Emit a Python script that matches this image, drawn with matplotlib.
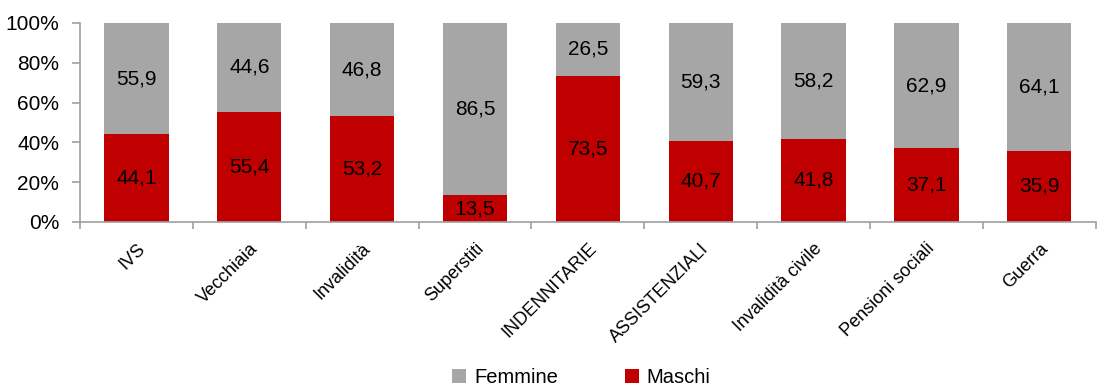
import matplotlib
matplotlib.use("Agg")
import matplotlib.pyplot as plt
import numpy as np
from matplotlib.ticker import FixedLocator, PercentFormatter

plt.rcParams['font.family'] = ['Liberation Sans', 'DejaVu Sans']

categories = ["IVS", "Vecchiaia", "Invalidità", "Superstiti", "INDENNITARIE",
              "ASSISTENZIALI", "Invalidità civile", "Pensioni sociali", "Guerra"]
maschi = [44.1, 55.4, 53.2, 13.5, 73.5, 40.7, 41.8, 37.1, 35.9]
femmine = [55.9, 44.6, 46.8, 86.5, 26.5, 59.3, 58.2, 62.9, 64.1]

col_m = "#C00000"
col_f = "#A6A6A6"
axis_col = "#A0A0A0"

fig = plt.figure(figsize=(11.18, 3.87), dpi=100)
ax = fig.add_axes([0.0716, 0.4264, 0.9084, 0.5142])

x = np.arange(len(categories))
w = 0.57
bm = ax.bar(x, maschi, w, color=col_m, label="Maschi")
bf = ax.bar(x, femmine, w, bottom=maschi, color=col_f, label="Femmine")

fmt = lambda v: f"{v:.1f}".replace(".", ",")
for xi, m, f in zip(x, maschi, femmine):
    ax.text(xi, m / 2, fmt(m), ha="center", va="center", fontsize=15, color="black")
    ax.text(xi, m + f / 2, fmt(f), ha="center", va="center", fontsize=15, color="black")

ax.set_xlim(-0.5, len(categories) - 0.5)
ax.set_ylim(0, 100)
ax.yaxis.set_major_locator(FixedLocator([0, 20, 40, 60, 80, 100]))
ax.yaxis.set_major_formatter(PercentFormatter(decimals=0))

ax.set_xticks(x)
ax.set_xticklabels(categories, rotation=45, ha="right", rotation_mode="anchor", fontsize=13)
ax.set_xticks(np.arange(len(categories) + 1) - 0.5, minor=True)
ax.tick_params(axis="x", which="major", length=0, pad=13)
ax.tick_params(axis="x", which="minor", length=5, color=axis_col, width=1.2)
ax.tick_params(axis="y", length=6, color=axis_col, width=1.2, labelsize=15, pad=9)

for s in ("top", "right"):
    ax.spines[s].set_visible(False)
for s in ("left", "bottom"):
    ax.spines[s].set_color(axis_col)
    ax.spines[s].set_linewidth(1.2)

fig.legend(handles=[bf, bm], labels=["Femmine", "Maschi"], loc="center",
           bbox_to_anchor=(0.52, 0.025), ncol=2, frameon=False, fontsize=14.5,
           handlelength=0.7, handleheight=0.7, handletextpad=0.4, columnspacing=3.3,
           borderaxespad=0, borderpad=0)

fig.savefig("out.png", dpi=100)
